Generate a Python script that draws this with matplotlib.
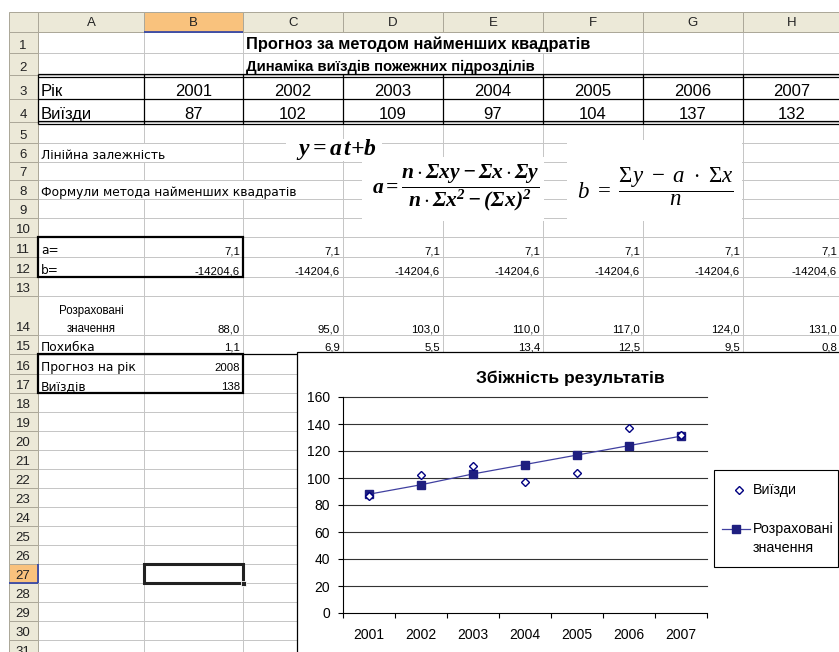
import matplotlib
matplotlib.use("Agg")
import matplotlib.pyplot as plt
from matplotlib.patches import Rectangle
from matplotlib.lines import Line2D
import numpy as np

# ---- data ----
years = [2001, 2002, 2003, 2004, 2005, 2006, 2007]
trips = [87, 102, 109, 97, 104, 137, 132]
a_coef = 7.1
b_coef = -14204.6
calc = [88.0, 95.0, 103.0, 110.0, 117.0, 124.0, 131.0]
errors = [1.1, 6.9, 5.5, 13.4, 12.5, 9.5, 0.8]
forecast_year = 2008
forecast_trips = 138
col_letters = ["A", "B", "C", "D", "E", "F", "G", "H"]

plt.rcParams["font.family"] = ["Liberation Sans", "DejaVu Sans"]
plt.rcParams["mathtext.fontset"] = "custom"
plt.rcParams["mathtext.rm"] = "Liberation Serif"
plt.rcParams["mathtext.it"] = "Liberation Serif:italic"
plt.rcParams["mathtext.bf"] = "Liberation Serif:bold:italic"

W, H = 839, 652
fig = plt.figure(figsize=(W / 100, H / 100), dpi=100)
bg = fig.add_axes([0, 0, 1, 1])
bg.set_xlim(0, W)
bg.set_ylim(H, 0)
bg.axis("off")

# sheet geometry (pixels)
col_edges = [9, 38, 144, 243, 343, 443, 543, 643, 743, 840]
row_edges = [12, 32, 53, 75, 99, 122, 143, 162, 180, 199, 218, 237, 257, 277, 296, 335, 354, 374]
while row_edges[-1] < H + 20:
    row_edges.append(row_edges[-1] + 19)

GRID = "#C6C6C6"
HDR = "#ECE9D8"
HDR_LINE = "#ACA899"
SEL = "#F9C27D"
LABEL_FONT = "DejaVu Sans"

def hl(y, x0, x1, c="black", lw=0.72, z=2):
    bg.plot([x0, x1], [y, y], color=c, lw=lw, zorder=z, solid_capstyle="butt")

def vl(x, y0, y1, c="black", lw=0.72, z=2):
    bg.plot([x, x], [y0, y1], color=c, lw=lw, zorder=z, solid_capstyle="butt")

def rtop(r):
    return row_edges[r]

def rbot(r):
    return row_edges[r + 1]

# cells where overflowing text hides a vertical gridline: (row, x)
hidden = {(1, 343), (1, 443), (1, 543), (2, 343), (2, 443), (6, 144), (8, 144), (8, 243)}

# gridlines
for r in range(1, len(row_edges) - 1):
    for x in col_edges[2:]:
        if (r, x) not in hidden:
            vl(x, rtop(r), rbot(r), GRID, z=1)
for y in row_edges[1:]:
    hl(y, 38, W, GRID, z=1)

# column headers
bg.add_patch(Rectangle((col_edges[0], 12), col_edges[1] - col_edges[0], 20, fc=HDR, ec=HDR_LINE, lw=0.72, zorder=3))
for i, letter in enumerate(col_letters):
    x0, x1 = col_edges[i + 1], col_edges[i + 2]
    fc = SEL if letter == "B" else HDR
    bg.add_patch(Rectangle((x0, 12), x1 - x0, 20, fc=fc, ec=HDR_LINE, lw=0.72, zorder=3))
    bg.text((x0 + x1) / 2, 23, letter, ha="center", va="center", fontsize=9.5, color="#222222", zorder=4)

# row headers
for r in range(1, len(row_edges) - 1):
    y0, y1 = rtop(r), rbot(r)
    fc = SEL if r == 27 else HDR
    bg.add_patch(Rectangle((9, y0), 29, y1 - y0, fc=fc, ec=HDR_LINE, lw=0.72, zorder=3))
    bg.text(23, y1 - 4, str(r), ha="center", va="baseline", fontsize=9.5, color="#222222", zorder=4)
vl(38, rtop(27), rbot(27), "#2B3FA8", 1.2, 4)
hl(rbot(27), 9, 38, "#2B3FA8", 1.2, 4)
hl(32, 144, 243, "#2B3FA8", 1.2, 4)

def fmt(v):
    return f"{v:.1f}".replace(".", ",")

def cell_text(r, c, s, ha="right", size=8.2, **kw):
    x0, x1 = col_edges[c + 1], col_edges[c + 2]
    x = {"right": x1 - 3, "left": x0 + 3, "center": (x0 + x1) / 2}[ha]
    bg.text(x, rbot(r) - 3, s, ha=ha, va="baseline", fontsize=size, zorder=4, **kw)

def label(r, s):
    cell_text(r, 0, s, ha="left", size=8.8, family=LABEL_FONT)

# titles
bg.text(246, rbot(1) - 4, "Прогноз за методом найменших квадратів", fontsize=11.8, fontweight="bold", va="baseline", zorder=4)
bg.text(246, rbot(2) - 4, "Динаміка виїздів пожежних підрозділів", fontsize=10.7, fontweight="bold", va="baseline", zorder=4)

# year / trips table
cell_text(3, 0, "Рік", ha="left", size=12)
cell_text(4, 0, "Виїзди", ha="left", size=12)
for i in range(len(years)):
    cell_text(3, i + 1, str(years[i]), ha="center", size=12)
    cell_text(4, i + 1, str(trips[i]), ha="center", size=12)
for y in (rtop(3) - 1.5, rtop(3) + 1.5, rbot(4) - 1.5, rbot(4) + 1.5):
    hl(y, 38, W, "black", 0.9, 3)
hl(rbot(3), 38, W, "black", 0.9, 3)
for x in col_edges[1:]:
    vl(x, rtop(3) - 1.5, rbot(4) + 1.5, "black", 0.9, 3)

# labels and formulas
label(6, "Лінійна залежність")
label(8, "Формули метода найменших квадратів")
for (x0, y0, x1, y1) in [(286, 139, 382, 161), (362, 157, 544, 221), (567, 140, 742, 221)]:
    bg.add_patch(Rectangle((x0, y0), x1 - x0, y1 - y0, fc="white", ec="none", zorder=3))
bg.text(336, 150, r"$\mathbf{y{=}a\,t{+}b}$", ha="center", va="center", fontsize=17, zorder=4)
bg.text(456, 188, r"$\mathbf{a=\dfrac{n\cdot\Sigma xy-\Sigma x\cdot\Sigma y}{n\cdot\Sigma x^2-(\Sigma x)^2}}$",
        ha="center", va="center", fontsize=15.5, zorder=4)
bg.text(655, 187, r"$b\ =\ \dfrac{\Sigma y\ -\ a\ \cdot\ \Sigma x}{n}$",
        ha="center", va="center", fontsize=16.5, zorder=4)

# coefficients
label(11, "a=")
label(12, "b=")
for i in range(len(years)):
    cell_text(11, i + 1, fmt(a_coef))
    cell_text(12, i + 1, fmt(b_coef))
    cell_text(14, i + 1, fmt(calc[i]))
    cell_text(15, i + 1, fmt(errors[i]))
bg.add_patch(Rectangle((38, rtop(11)), 243 - 38, rbot(12) - rtop(11), fc="none", ec="black", lw=1.6, zorder=4))

bg.text(91, rbot(14) - 21, "Розраховані", ha="center", va="baseline", fontsize=8.3, zorder=4)
bg.text(91, rbot(14) - 3, "значення", ha="center", va="baseline", fontsize=8.3, zorder=4)
label(15, "Похибка")
hl(rbot(15), 38, W, "black", 0.9, 3)

label(16, "Прогноз на рік")
cell_text(16, 1, str(forecast_year))
label(17, "Виїздів")
cell_text(17, 1, str(forecast_trips))
bg.add_patch(Rectangle((38, rtop(16)), 243 - 38, rbot(17) - rtop(16), fc="none", ec="black", lw=1.6, zorder=4))

# selected cell B27
bg.add_patch(Rectangle((144, rtop(27)), 99, 19, fc="none", ec="#222222", lw=2.2, zorder=4))
bg.add_patch(Rectangle((240.5, rbot(27) - 2.5), 5, 5, fc="#222222", ec="white", lw=0.6, zorder=5))

# ---- embedded chart ----
bg.add_patch(Rectangle((297, 352), 600, 400, fc="white", ec="black", lw=0.9, zorder=6))
bg.text(570, 378, "Збіжність результатів", ha="center", va="center", fontsize=12.5, fontweight="bold", zorder=7)

px0, px1, py0, py1 = 343, 707, 397, 613
ax = fig.add_axes([px0 / W, 1 - py1 / H, (px1 - px0) / W, (py1 - py0) / H])
ax.set_facecolor("white")
xs = np.arange(len(years))
ax.plot(xs, trips, linestyle="none", marker="D", ms=4.0, mfc="white", mec="#000080", mew=1.0, zorder=4)
ax.plot(xs, calc, color="#4040A0", lw=0.9, marker="s", ms=6, mfc="#1F1F80", mec="#1F1F80", zorder=3)
ax.set_xlim(-0.5, len(years) - 0.5)
ax.set_ylim(0, 160)
ax.set_yticks(np.arange(0, 161, 20))
for v in np.arange(20, 161, 20):
    ax.axhline(v, color="#333333", lw=0.8, zorder=1, clip_on=False)
ax.set_xticks(np.arange(-0.5, len(years), 1.0))
ax.set_xticklabels([])
ax.set_xticks(xs, minor=True)
ax.set_xticklabels([str(y) for y in years], minor=True)
ax.tick_params(axis="x", which="major", length=3.5, width=0.8, direction="out")
ax.tick_params(axis="x", which="minor", length=0, pad=11, labelsize=10)
ax.tick_params(axis="y", length=3.5, width=0.8, direction="out", pad=6, labelsize=10)
for s in ("top", "right"):
    ax.spines[s].set_visible(False)
for s in ("left", "bottom"):
    ax.spines[s].set_linewidth(0.8)

# legend box
bg.add_patch(Rectangle((714, 470), 124, 97, fc="white", ec="black", lw=0.8, zorder=7))
bg.add_line(Line2D([739], [490], ls="none", marker="D", ms=3.6, mfc="white", mec="#000080", mew=1.0, zorder=8))
bg.text(753, 490, "Виїзди", va="center", fontsize=10.3, zorder=8)
bg.add_line(Line2D([722, 750], [529, 529], color="#4040A0", lw=0.9, zorder=8))
bg.add_line(Line2D([736], [529], ls="none", marker="s", ms=6, mfc="#1F1F80", mec="#1F1F80", zorder=8))
bg.text(753, 529, "Розраховані", va="center", fontsize=10.3, zorder=8)
bg.text(753, 548, "значення", va="center", fontsize=10.3, zorder=8)

fig.savefig("out.png", dpi=100)
